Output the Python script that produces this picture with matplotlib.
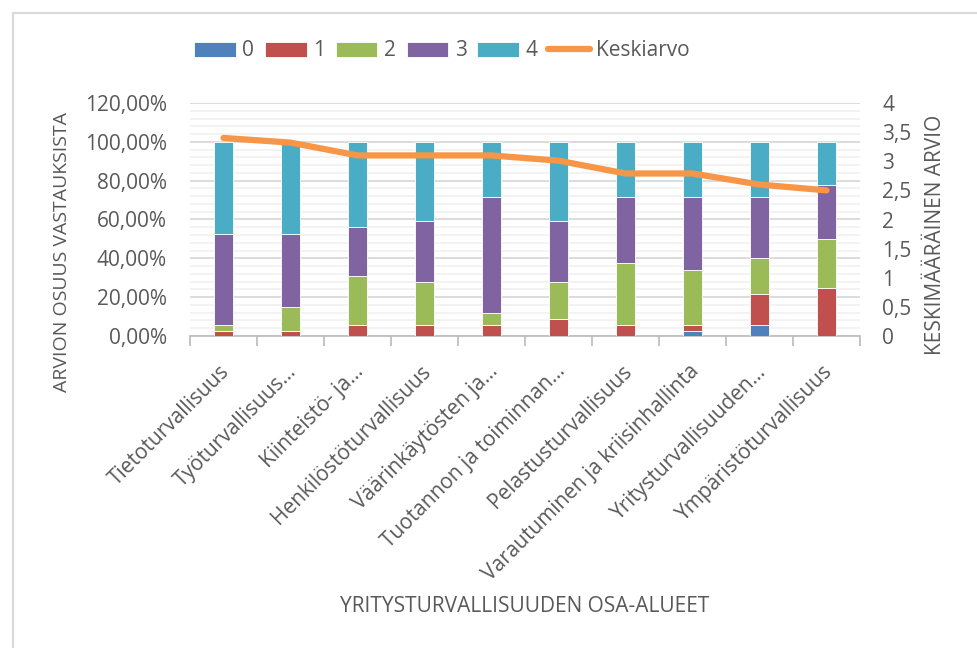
import matplotlib
matplotlib.use("Agg")
import matplotlib.pyplot as plt
import matplotlib.transforms as mtransforms
from matplotlib.ticker import MultipleLocator, FuncFormatter
from matplotlib.patches import Rectangle
from matplotlib.lines import Line2D
import numpy as np

categories = ["Tietoturvallisuus", "Työturvallisuus…", "Kiinteistö- ja…",
              "Henkilöstöturvallisuus", "Väärinkäytösten ja…",
              "Tuotannon ja toiminnan…", "Pelastusturvallisuus",
              "Varautuminen ja kriisinhallinta", "Yritysturvallisuuden…",
              "Ympäristöturvallisuus"]
level0 = [0.0, 0.0, 0.0, 0.0, 0.0, 0.0, 0.0, 2.7, 5.8, 0.0]
level1 = [2.6, 2.6, 5.7, 5.7, 5.7, 8.9, 5.7, 3.0, 15.8, 24.7]
level2 = [3.1, 12.5, 25.1, 22.1, 6.3, 18.8, 31.8, 28.5, 18.8, 25.1]
level3 = [47.0, 37.6, 25.4, 31.3, 59.6, 31.4, 34.1, 37.4, 31.2, 28.2]
level4 = [47.3, 47.3, 43.8, 40.9, 28.4, 40.9, 28.4, 28.4, 28.4, 22.0]
keskiarvo = [3.40, 3.32, 3.10, 3.10, 3.10, 3.01, 2.79, 2.79, 2.60, 2.50]
series_labels = ["0", "1", "2", "3", "4"]
colors = ["#4F81BD", "#C0504D", "#9BBB59", "#8064A2", "#4BACC6"]
line_color = "#F79646"
text_color = "#595959"

plt.rcParams["font.family"] = ["Open Sans", "DejaVu Sans"]
FS = 15

W, H = 978, 648
fig = plt.figure(figsize=(W / 100, H / 100), dpi=100)
fig.patch.set_facecolor("white")

# frame (left and top visible)
fig.add_artist(Rectangle((13 / W, -0.1), 1.2, (H - 13) / H + 0.1,
                         transform=fig.transFigure, fill=False,
                         edgecolor="#D9D9D9", linewidth=1.5))

left, right, bottom, top = 190 / W, 860 / W, (H - 336) / H, (H - 103) / H
ax = fig.add_axes([left, bottom, right - left, top - bottom])
ax2 = ax.twinx()

x = np.arange(len(categories))
levels = [level0, level1, level2, level3, level4]
cum = np.zeros(len(categories))
handles = []
for vals, c, lab in zip(levels, colors, series_labels):
    v = np.array(vals) / 100.0
    b = ax.bar(x, v, bottom=cum, width=0.27, color=c, edgecolor="white",
               linewidth=0.6, label=lab, zorder=3)
    handles.append(b)
    cum += v

ax.set_xlim(-0.5, len(categories) - 0.5)
ax.set_ylim(0, 1.2)
ax.yaxis.set_major_locator(MultipleLocator(0.2))
ax.yaxis.set_minor_locator(MultipleLocator(0.04))
ax.yaxis.set_major_formatter(FuncFormatter(lambda v, p: f"{v*100:.2f}%".replace(".", ",")))
ax.grid(axis="y", which="major", color="#D9D9D9", linewidth=1.3, zorder=0)
ax.grid(axis="y", which="minor", color="#F2F2F2", linewidth=1.3, zorder=0)
ax.set_axisbelow(True)
for s in ["top", "left", "right"]:
    ax.spines[s].set_visible(False)
    ax2.spines[s].set_visible(False)
ax.spines["bottom"].set_color("#BFBFBF")
ax.spines["bottom"].set_linewidth(1.3)
ax2.spines["bottom"].set_visible(False)
ax.tick_params(axis="y", which="both", length=0, labelsize=FS, labelcolor=text_color, pad=16.5)

# category boundary ticks
ax.set_xticks(np.arange(-0.5, len(categories), 1.0))
ax.set_xticklabels([])
ax.tick_params(axis="x", which="major", length=7, width=1.3, color="#BFBFBF")
ax.set_xticks(x, minor=True)
ax.set_xticklabels(categories, minor=True, rotation=45, ha="right",
                   rotation_mode="anchor", fontsize=FS, color=text_color)
ax.tick_params(axis="x", which="minor", length=0, pad=18)
offset = mtransforms.ScaledTranslation(-3 / 72, 0, fig.dpi_scale_trans)
for lbl in ax.get_xticklabels(minor=True):
    lbl.set_transform(lbl.get_transform() + offset)

ax2.plot(x, keskiarvo, color=line_color, linewidth=4.5, solid_capstyle="round",
         solid_joinstyle="round", zorder=5)
ax2.set_ylim(0, 4)
ax2.yaxis.set_major_locator(MultipleLocator(0.5))
ax2.yaxis.set_major_formatter(FuncFormatter(lambda v, p: (f"{v:g}").replace(".", ",")))
ax2.tick_params(axis="y", length=0, labelsize=FS, labelcolor=text_color, pad=16)

fig.text(62 / W, 1 - 252 / H, "ARVION OSUUS VASTAUKSISTA", rotation=90,
         ha="center", va="center", fontsize=14, color=text_color)
fig.text(936 / W, 1 - 235 / H, "KESKIMÄÄRÄINEN ARVIO", rotation=90,
         ha="center", va="center", fontsize=FS, color=text_color)
fig.text(525 / W, 1 - 607 / H, "YRITYSTURVALLISUUDEN OSA-ALUEET",
         ha="center", va="center", fontsize=FS, color=text_color)

line_handle = Line2D([0], [0], color=line_color, linewidth=4.5, solid_capstyle="round")
leg = fig.legend(handles + [line_handle], series_labels + ["Keskiarvo"],
                 loc="center", bbox_to_anchor=(442 / W, 1 - 51 / H), ncol=6,
                 frameon=False, fontsize=FS, handlelength=2.0, handleheight=0.7,
                 handletextpad=0.3, columnspacing=0.53, labelcolor=text_color)

fig.savefig("out.png", dpi=100, facecolor="white")
